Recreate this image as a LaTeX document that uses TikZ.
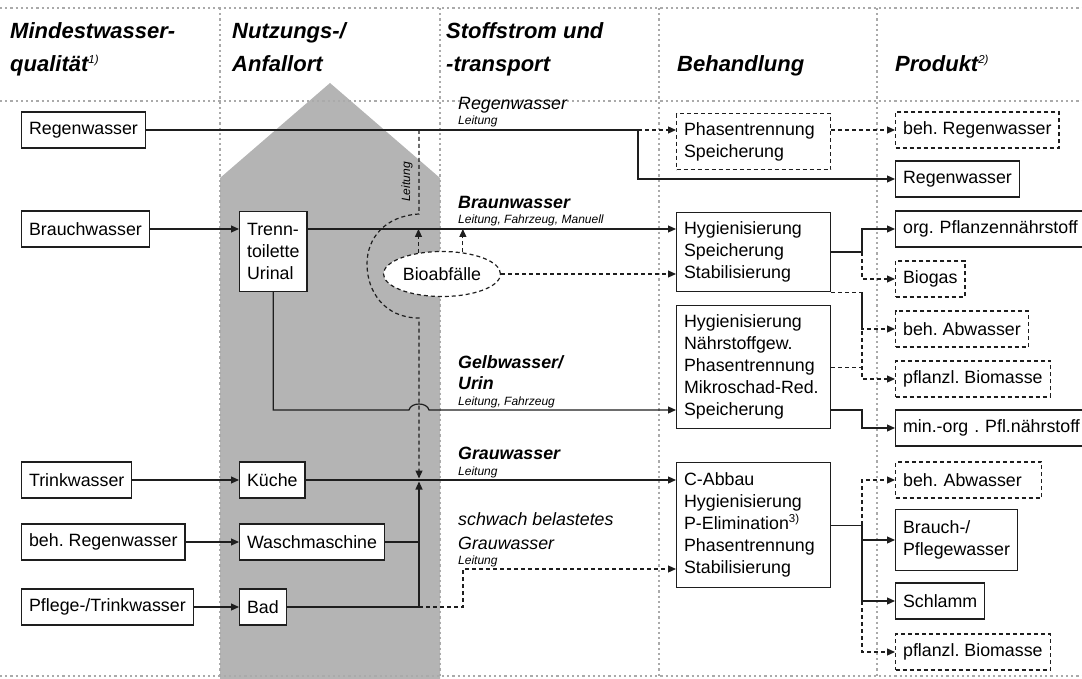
\documentclass[tikz,border=0pt]{standalone}
\usepackage{fontspec}
\setmainfont{Liberation Sans}
\usetikzlibrary{arrows.meta,shapes.geometric}
\definecolor{housegray}{RGB}{180,180,180}
\definecolor{dotgray}{RGB}{170,170,170}
\definecolor{linecol}{RGB}{30,30,30}
\newcommand\fbody{\fontsize{17.8}{22}\selectfont}
\newcommand\fhead{\fontsize{22}{33}\selectfont\bfseries\itshape}
\newcommand\fsmall{\fontsize{12}{14}\selectfont\itshape}
\newcommand\flab{\fontsize{17.8}{22}\selectfont\itshape}
\newcommand\mysup[2]{\raisebox{#1}{\fontsize{11.5}{12}\selectfont #2}}
\frenchspacing
\begin{document}
\begin{tikzpicture}[x=1pt,y=-1pt,
  bx/.style={draw=linecol, line width=1.2pt, fill=white, font=\fbody, inner xsep=7.5pt, inner ysep=0pt, minimum height=36pt, align=left, anchor=west},
  dbx/.style={bx, dash pattern=on 4pt off 3pt},
  tbx/.style={bx, anchor=north west, text width=139pt},
  hd/.style={font=\fhead, anchor=base west, inner sep=0pt},
  lab/.style={font=\flab, anchor=base west, inner sep=0pt},
  blab/.style={font={\flab\bfseries}, anchor=base west, inner sep=0pt},
  sm/.style={font=\fsmall, anchor=base west, inner sep=0pt},
  ln/.style={draw=linecol, line width=1.2pt},
  dln/.style={ln, dash pattern=on 4pt off 3pt},
  arr/.style={-{Triangle[length=8pt,width=7pt]}},
  dotl/.style={draw=dotgray, line width=2.2pt, dash pattern=on 2.2pt off 3pt}
]
\useasboundingbox (0,0) rectangle (1082,679);
% house
\fill[housegray] (220,679) -- (220,178) -- (330,83) -- (440,178) -- (440,679) -- cycle;
% grid
\draw[dotl] (0,8) -- (1082,8);
\draw[dotl] (0,101) -- (1082,101);
\draw[dotl] (0,676) -- (1082,676);
\foreach \gx in {220,440,659,877} \draw[dotl] (\gx,8) -- (\gx,676);
% headers
\node[hd] (h1a) at (10,39) {Mindestwasser-};
\node[hd] (h1b) at (10,72) {qualität\mysup{8pt}{\mdseries\itshape 1)}};
\node[hd] (h2a) at (232,39) {Nutzungs-/};
\node[hd] (h2b) at (232,72) {Anfallort};
\node[hd] (h3a) at (446,39) {Stoffstrom und};
\node[hd] (h3b) at (446,72) {-transport};
\node[hd] (h4) at (677,72) {Behandlung};
\node[hd] (h5) at (895,72) {Produkt\mysup{8pt}{\mdseries\itshape 2)}};
% column 1
\node[bx] (q1) at (21,130) {Regenwasser};
\node[bx] (q2) at (21,229) {Brauchwasser};
\node[bx] (q3) at (21,480) {Trinkwasser};
\node[bx] (q4) at (21,542) {beh. Regenwasser};
\node[bx] (q5) at (21,607) {Pflege-/Trinkwasser};
% column 2
\node[bx, anchor=north west, minimum height=80pt] (u1) at (239,211) {Trenn-\\toilette\\Urinal};
\node[bx] (u2) at (239,480) {Küche};
\node[bx] (u3) at (239,542) {Waschmaschine};
\node[bx] (u4) at (239,607) {Bad};
% column 4
\node[tbx, dash pattern=on 4pt off 3pt, minimum height=56pt] (b1) at (676,113) {Phasentrennung\\Speicherung};
\node[tbx, minimum height=79pt] (b2) at (676,212) {Hygienisierung\\Speicherung\\Stabilisierung};
\node[tbx, minimum height=123pt] (b3) at (676,305) {Hygienisierung\\Nährstoffgew.\\Phasentrennung\\Mikroschad-Red.\\Speicherung};
\node[tbx, minimum height=125pt] (b4) at (676,462) {C-Abbau\\Hygienisierung\\P-Elimination\mysup{7pt}{3)}\\Phasentrennung\\Stabilisierung};
% column 5
\node[dbx] (p1) at (895,130) {beh. Regenwasser};
\node[bx] (p2) at (895,179) {Regenwasser};
\node[bx, text width=182pt] (p3) at (895,229) {org. Pflanzennährstoff};
\node[dbx] (p4) at (895,279) {Biogas};
\node[dbx] (p5) at (895,329) {beh. Abwasser};
\node[dbx] (p6) at (895,379) {pflanzl. Biomasse};
\node[bx, text width=182pt] (p7) at (895,428) {min.-org . Pfl.nährstoff};
\node[dbx, text width=131pt] (p8) at (895,480) {beh. Abwasser};
\node[bx, minimum height=61pt] (p9) at (895,540) {Brauch-/\\Pflegewasser};
\node[bx] (p10) at (895,601) {Schlamm};
\node[dbx] (p11) at (895,652) {pflanzl. Biomasse};
% column 3 labels
\node[lab] (l1) at (458,110) {Regenwasser};
\node[sm] (l1s) at (458,125) {Leitung};
\node[blab] (l2) at (458,209) {Braunwasser};
\node[sm] (l2s) at (458,224) {Leitung, Fahrzeug, Manuell};
\node[blab] (l3a) at (458,368) {Gelbwasser/};
\node[blab] (l3b) at (458,389) {Urin};
\node[sm] (l3s) at (458,405) {Leitung, Fahrzeug};
\node[blab] (l4) at (458,459) {Grauwasser};
\node[sm] (l4s) at (458,475) {Leitung};
\node[lab] (l5a) at (458,525) {schwach belastetes};
\node[lab] (l5b) at (458,549) {Grauwasser};
\node[sm] (l5s) at (458,564) {Leitung};
\node[font=\fsmall, rotate=90, inner sep=0pt] (lr) at (407,182) {Leitung};
% coordinates
\coordinate (jR) at (638,130);
\coordinate (gx) at (419,480);
\coordinate (lc1) at (419,214);
\coordinate (lc2) at (419,318);
\coordinate (hopL) at (409,410);
\coordinate (hopR) at (429,410);
\coordinate (sb1) at (463,607);
\coordinate (sb2) at (463,569);
\coordinate (kx) at (862,0);
% rainwater
\draw[ln] (q1.east) -- (jR);
\draw[dln, arr] (jR) -- (b1.west |- jR);
\draw[ln, arr] (jR) |- (p2.west);
\draw[dln, arr, shorten >=1.5pt] (gx |- jR) -- (lc1) .. controls (385,216) and (367,238) .. (367,264) .. controls (367,292) and (385,318) .. (lc2) -- (gx);
% brown water
\draw[ln, arr] (q2.east) -- (u1.west |- q2.east);
\draw[ln, arr] (u1.east |- q2.east) -- (b2.west |- q2.east);
% yellow water
\draw[ln, arr] (u1.south) |- (hopL) .. controls +(2,-8) and +(-2,-8) .. (hopR) -- (b3.west |- hopR);
% grey water
\draw[ln, arr] (q3.east) -- (u2.west);
\draw[ln, arr] (q4.east) -- (u3.west);
\draw[ln, arr] (q5.east) -- (u4.west);
\draw[ln, arr] (u2.east) -- (b4.west |- u2.east);
\draw[ln] (u3.east) -- (u3.east -| gx);
\draw[ln, arr, shorten >=1.5pt] (u4.east) -| (gx);
\draw[dln, arr] (u4.east -| gx) -- (sb1) -- (sb2) -- (b4.west |- sb2);
% bio waste
\node[ellipse, draw=linecol, line width=1.2pt, dash pattern=on 4pt off 3pt, fill=white, minimum width=117pt, minimum height=45pt, inner sep=0pt, font=\fbody] (bio) at (442,274) {Bioabfälle};
\draw[dln, arr] (bio.138) -- (bio.138 |- q2.east);
\draw[dln, arr] (bio.46) -- (bio.46 |- q2.east);
\draw[dln, arr] (bio.east) -- (b2.west |- bio.east);
% treatment -> products
\draw[dln, arr] (b1.east |- p1.west) -- (p1.west);
\draw[ln, arr] (b2.east) -- (b2.east -| kx) |- (p3.west);
\draw[dln, arr] (b2.east -| kx) |- (p4.west);
\draw[dln, arr] (b2.south east) -- (b2.south east -| kx) |- (p6.west);
\draw[dln, arr] (b2.south east -| kx) |- (p5.west);
\draw[dln] (b3.east) -- (b3.east -| kx);
\draw[ln, arr] (b3.east |- hopR) -- (kx |- hopR) |- (p7.west);
\draw[ln] (b4.east) -- (b4.east -| kx);
\draw[ln, arr] (b4.east -| kx) |- (p9.west);
\draw[ln, arr] (b4.east -| kx) |- (p10.west);
\draw[dln, arr] (b4.east -| kx) |- (p8.west);
\draw[dln, arr] (p10.west -| kx) |- (p11.west);
\end{tikzpicture}
\end{document}
